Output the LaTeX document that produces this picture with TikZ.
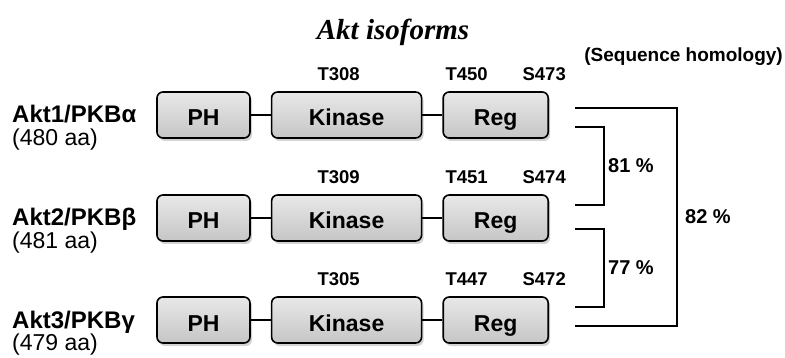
\documentclass[tikz,border=0pt]{standalone}
\usepackage{fontspec}
\setmainfont{Liberation Sans}
\newfontfamily\titlefont{Liberation Serif}
\usetikzlibrary{positioning,shadows}

\begin{document}
\begin{tikzpicture}[x=1pt,y=-1pt,
  node distance=20pt,
  dom/.style={draw,line width=1.6pt,rounded corners=6pt,top color=gray!18,
              bottom color=gray!45,minimum height=46pt,inner sep=0pt,
              text height=22pt,text depth=0pt,
              font=\fontsize{23}{24}\selectfont\bfseries,
              drop shadow={shadow xshift=2pt,shadow yshift=-3pt,opacity=0.35}},
  iso/.style={anchor=west,inner sep=0pt,text height=17pt,text depth=5pt,
              font=\fontsize{24}{25}\selectfont\bfseries},
  len/.style={inner sep=0pt,text height=17pt,text depth=4pt,
              font=\fontsize{23}{24}\selectfont},
  site/.style={inner sep=0pt,text height=14pt,text depth=0pt,
               font=\fontsize{18.5}{20}\selectfont\bfseries},
  pct/.style={inner sep=0pt,font=\fontsize{20}{22}\selectfont\bfseries},
  link/.style={line width=2.8pt},
  bracket/.style={line width=2.4pt}]

  \useasboundingbox (0,0) rectangle (785,358);

  % headings
  \node[font=\titlefont\fontsize{29}{30}\selectfont\bfseries\itshape] (title) at (393,32) {Akt isoforms};
  \node[font=\fontsize{19}{20}\selectfont\bfseries,anchor=east,inner sep=0pt] (homol) at (783,57) {(Sequence homology)};

  % Akt1
  \node[iso] (akt1) at (12,117) {Akt1/PKBα};
  \node[len,below right=0pt and 0pt of akt1.south west] (aa1) {(480 aa)};
  \node[dom,minimum width=93pt] (ph1) at (203.5,115) {PH};
  \node[dom,minimum width=150pt,right=of ph1] (kin1) {Kinase};
  \node[dom,minimum width=105pt,right=of kin1] (reg1) {Reg};
  \node[site,above=10pt of kin1,xshift=-8pt] (t1) {T308};
  \node[site,above right=10pt and 3pt of reg1.north west] (tr1) {T450};
  \node[site,above=10pt of reg1.north east,anchor=south east,xshift=17pt] (s1) {S473};
  \draw[link] (ph1) -- (kin1);
  \draw[link] (kin1) -- (reg1);

  % Akt2
  \node[iso] (akt2) at (12,220) {Akt2/PKBβ};
  \node[len,below right=0pt and 0pt of akt2.south west] (aa2) {(481 aa)};
  \node[dom,minimum width=93pt] (ph2) at (203.5,218) {PH};
  \node[dom,minimum width=150pt,right=of ph2] (kin2) {Kinase};
  \node[dom,minimum width=105pt,right=of kin2] (reg2) {Reg};
  \node[site,above=10pt of kin2,xshift=-8pt] (t2) {T309};
  \node[site,above right=10pt and 3pt of reg2.north west] (tr2) {T451};
  \node[site,above=10pt of reg2.north east,anchor=south east,xshift=17pt] (s2) {S474};
  \draw[link] (ph2) -- (kin2);
  \draw[link] (kin2) -- (reg2);

  % Akt3
  \node[iso] (akt3) at (12,322) {Akt3/PKBγ};
  \node[len,below right=0pt and 0pt of akt3.south west] (aa3) {(479 aa)};
  \node[dom,minimum width=93pt] (ph3) at (203.5,320) {PH};
  \node[dom,minimum width=150pt,right=of ph3] (kin3) {Kinase};
  \node[dom,minimum width=105pt,right=of kin3] (reg3) {Reg};
  \node[site,above=10pt of kin3,xshift=-8pt] (t3) {T305};
  \node[site,above right=10pt and 3pt of reg3.north west] (tr3) {T447};
  \node[site,above=10pt of reg3.north east,anchor=south east,xshift=17pt] (s3) {S472};
  \draw[link] (ph3) -- (kin3);
  \draw[link] (kin3) -- (reg3);

  % homology brackets
  \coordinate (o1) at ([xshift=26pt,yshift=7pt]reg1.east);
  \coordinate (o3) at ([xshift=26pt,yshift=-6pt]reg3.east);
  \coordinate (a1) at ([xshift=26pt,yshift=-12pt]reg1.east);
  \coordinate (a2) at ([xshift=26pt,yshift=13pt]reg2.east);
  \coordinate (b2) at ([xshift=26pt,yshift=-11pt]reg2.east);
  \coordinate (b3) at ([xshift=26pt,yshift=13pt]reg3.east);
  \draw[bracket] (o1) -- ++(102,0) |- node[pct,pos=0.25,right=7pt] (p82) {82 \%} (o3);
  \draw[bracket] (a1) -- ++(29,0) |- node[pct,pos=0.25,right=3pt] (p81) {81 \%} (a2);
  \draw[bracket] (b2) -- ++(29,0) |- node[pct,pos=0.25,right=3pt] (p77) {77 \%} (b3);
\end{tikzpicture}
\end{document}
